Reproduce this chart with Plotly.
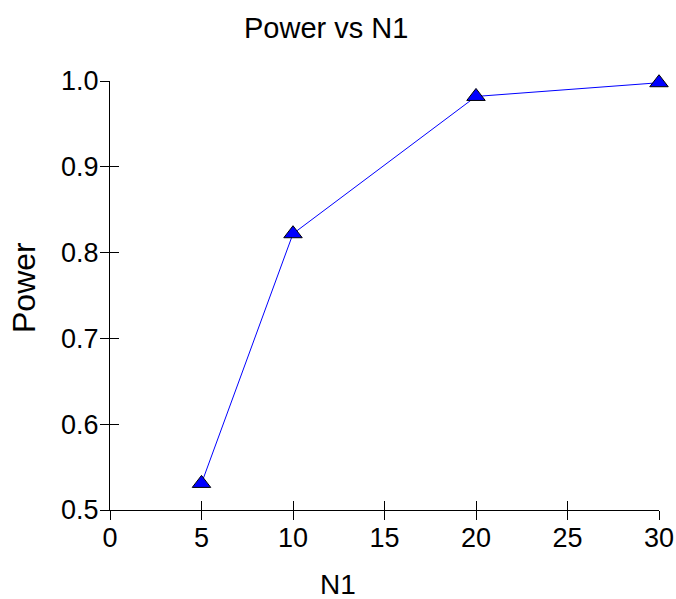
import plotly.graph_objects as go

n1 = [5, 10, 20, 30]
power = [0.531, 0.822, 0.982, 0.998]
x_ticks = [0, 5, 10, 15, 20, 25, 30]
y_ticks = [0.5, 0.6, 0.7, 0.8, 0.9, 1.0]
y_tick_text = ["0.5", "0.6", "0.7", "0.8", "0.9", "1.0"]

FONT = "Liberation Sans, Arial, sans-serif"
W, H = 676, 599
ML, MR, MT, MB = 110, 17, 81, 89
PW, PH = W - ML - MR, H - MT - MB


def px(xp):
    return (xp - ML) / PW


def py(yp):
    return (H - MB - yp) / PH


fig = go.Figure()
fig.add_trace(go.Scatter(
    x=n1, y=power, mode="lines+markers",
    line=dict(color="#0000FF", width=1),
    marker=dict(symbol="triangle-up", size=16, color="#0000FF",
                line=dict(color="black", width=1)),
    cliponaxis=False, showlegend=False,
))
# invisible trace for overlay axes (inside ticks)
fig.add_trace(go.Scatter(x=[None], y=[None], xaxis="x2", yaxis="y2",
                         showlegend=False, hoverinfo="skip"))

axis_common = dict(showgrid=False, zeroline=False, ticks="outside",
                   ticklen=9, tickwidth=1, tickcolor="black", automargin=False,
                   tickfont=dict(family=FONT, size=27, color="black"))

fig.update_layout(
    width=W, height=H, autosize=False,
    paper_bgcolor="white", plot_bgcolor="white",
    margin=dict(l=ML, r=MR, t=MT, b=MB),
    font=dict(family=FONT, size=27, color="black"),
    xaxis=dict(range=[0, 30], tickvals=x_ticks, showline=True,
               linecolor="black", linewidth=1, ticklabelstandoff=-5,
               **axis_common),
    yaxis=dict(range=[0.5, 1.0], tickvals=y_ticks, ticktext=y_tick_text,
               showline=True, linecolor="black", linewidth=1,
               ticklabelstandoff=-4, **axis_common),
    xaxis2=dict(range=[0, 30], tickvals=x_ticks, overlaying="x", anchor="y",
                side="bottom", showgrid=False, zeroline=False, ticks="inside",
                ticklen=9, tickwidth=1, tickcolor="black", automargin=False,
                showticklabels=False, showline=False),
    yaxis2=dict(range=[0.5, 1.0], tickvals=y_ticks, overlaying="y", anchor="x",
                side="left", showgrid=False, zeroline=False, ticks="inside",
                ticklen=9, tickwidth=1, tickcolor="black", automargin=False,
                showticklabels=False, showline=False),
    annotations=[
        dict(text="Power vs N1", x=px(326), y=py(28), xref="paper",
             yref="paper", xanchor="center", yanchor="middle", showarrow=False,
             font=dict(family=FONT, size=29, color="black")),
        dict(text="N1", x=px(338), y=py(584), xref="paper",
             yref="paper", xanchor="center", yanchor="middle", showarrow=False,
             font=dict(family=FONT, size=28, color="black")),
        dict(text="Power", x=px(24), y=py(288), xref="paper",
             yref="paper", xanchor="center", yanchor="middle", showarrow=False,
             textangle=-90, font=dict(family=FONT, size=32, color="black")),
    ],
)

fig.write_html("out.html")
